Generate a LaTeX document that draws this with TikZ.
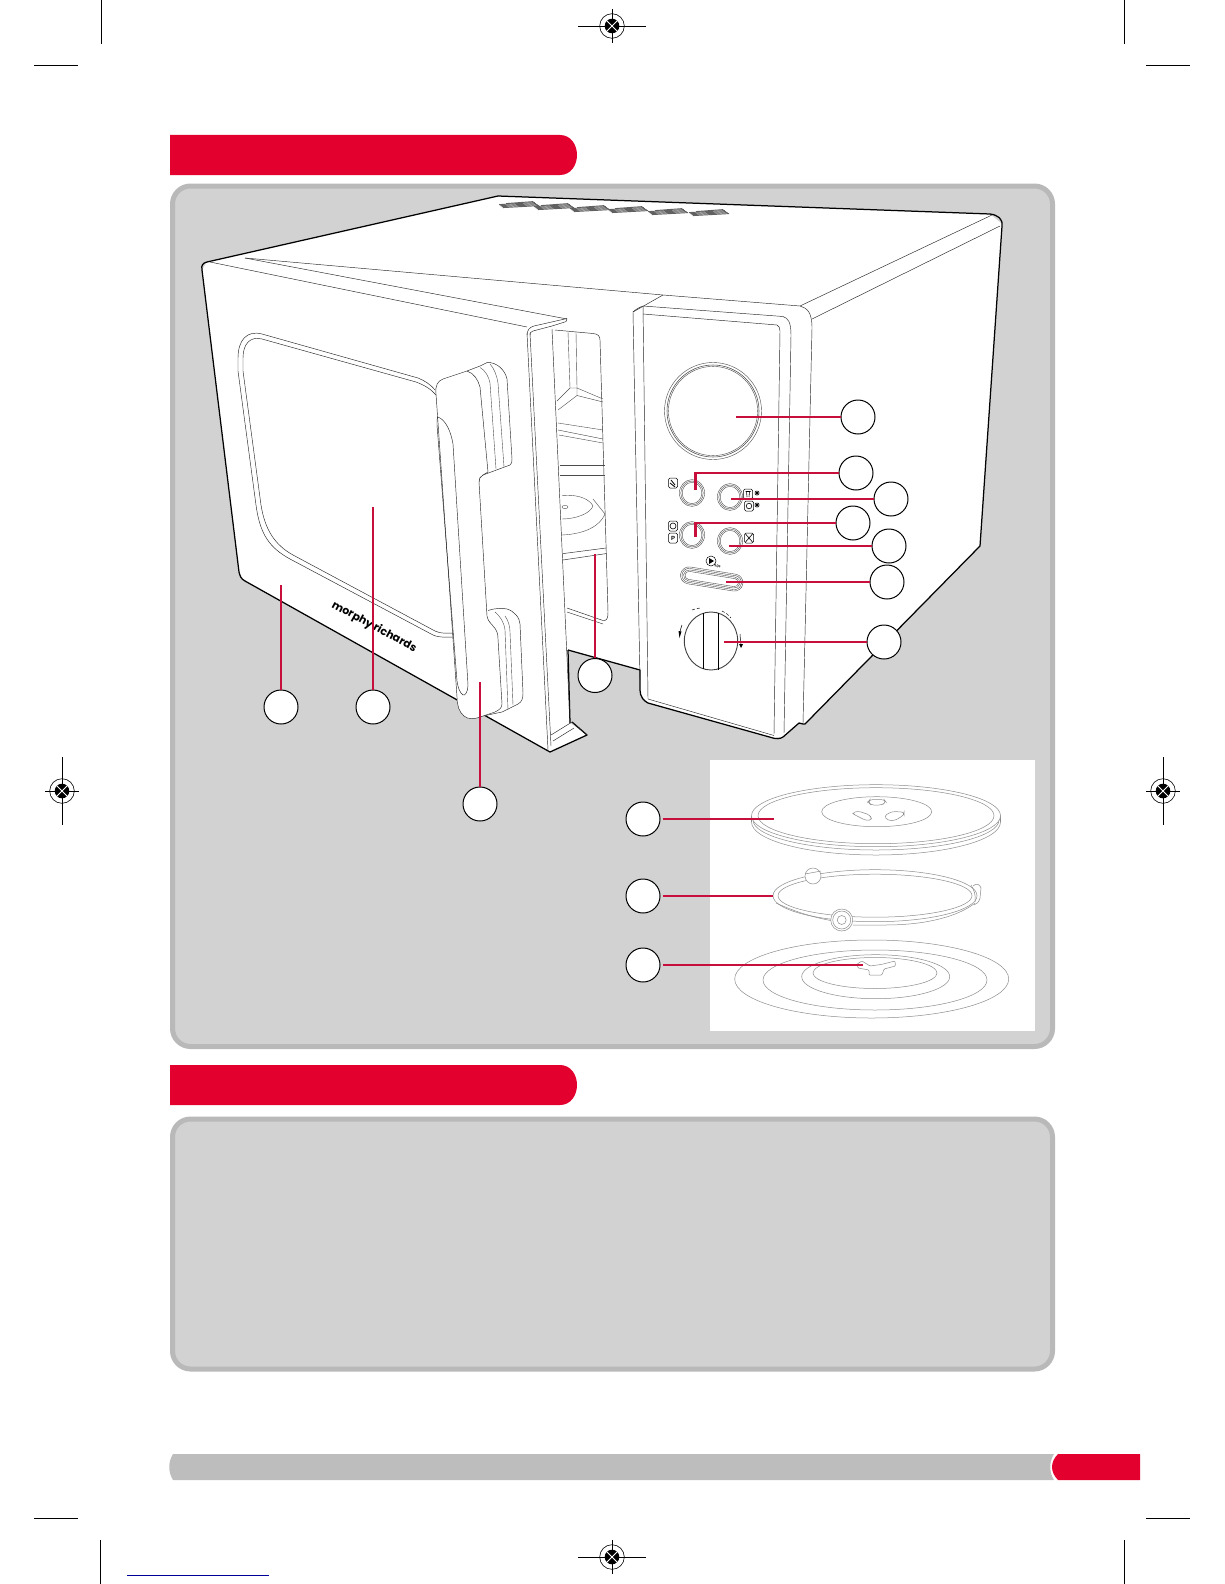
\documentclass[tikz,border=0pt]{standalone}
\usepackage{fontspec}
\newfontfamily\logofont{Poppins}
\newfontfamily\iconfont{Liberation Sans}
\definecolor{hdrred}{HTML}{E4002E}
\definecolor{leadred}{HTML}{C80F3C}
\definecolor{bandgrey}{HTML}{B9B9B9}
\definecolor{panelgrey}{HTML}{D2D2D2}
\definecolor{footgrey}{HTML}{BDBDBD}
\definecolor{insetline}{HTML}{8C8C8C}
\definecolor{linkblue}{HTML}{000099}
\tikzset{
  panelbox/.style={draw=bandgrey,line width=5pt,fill=panelgrey,rounded corners=18pt},
  outl/.style={draw=black,line width=1.25pt,line join=round},
  thin1/.style={draw=black!85,line width=0.45pt,line join=round},
  thin2/.style={draw=black!70,line width=0.4pt,line join=round},
  insetl/.style={draw=insetline,line width=0.5pt},
  callout/.style={circle,draw=black,line width=1pt,fill=white,minimum size=34pt,inner sep=0pt},
  leader/.style={draw=leadred,line width=2.9pt},
  leaderthin/.style={draw=leadred,line width=2.2pt},
  crop/.style={draw=black,line width=0.6pt},
  ring/.style={draw=black!70,line width=0.4pt},
  iconbox/.style={draw=black,line width=0.5pt,fill=white,rounded corners=1.5pt},
}
\begin{document}
\begin{tikzpicture}[x=1pt,y=-1pt]
\useasboundingbox (0,0) rectangle (1224,1584);
% crop marks
\draw[crop] (101,0) -- (101,44) (1124,0) -- (1124,44) (34,65) -- (78,65) (1146,65) -- (1190,65);
\draw[crop] (100,1540) -- (100,1584) (1124,1540) -- (1124,1584) (34,1518) -- (78,1518) (1146,1518) -- (1190,1518);
% registration marks
\foreach \mx/\my/\hl/\vl in {612/26/34/17,62/791/17/34,1163/791/17/34,612/1557/34/17}{
  \begin{scope}[shift={(\mx,\my)}]
    \draw[crop] (-\hl,0) -- (\hl,0) (0,-\vl) -- (0,\vl);
    \draw[crop] (0,0) circle[radius=12.3];
    \fill[black] (0,0) circle[radius=7.3];
    \draw[white,line width=0.8pt] (-6,-6) -- (6,6) (-6,6) -- (6,-6);
  \end{scope}}
\draw[linkblue,line width=1pt] (127,1575) -- (269,1575);
% headers and panels
\fill[hdrred] (170,135) -- (560,135) .. controls (571,135) and (577,145) .. (577,155) .. controls (577,165) and (571,175) .. (560,175) -- (170,175) -- cycle;
\draw[panelbox] (172.5,186) rectangle (1052.5,1046.5);
\fill[hdrred] (170,1065) -- (560,1065) .. controls (571,1065) and (577,1075) .. (577,1085) .. controls (577,1095) and (571,1105) .. (560,1105) -- (170,1105) -- cycle;
\draw[panelbox] (172.5,1119) rectangle (1052.5,1369);
% footer
\fill[footgrey] (173,1454) -- (1054,1454) .. controls (1049,1462) and (1049,1472) .. (1054,1480) -- (173,1480) .. controls (168,1472) and (168,1462) .. (173,1454) -- cycle;
\fill[hdrred] (1058,1454) -- (1140,1454) -- (1140,1480) -- (1058,1480) .. controls (1050,1472) and (1050,1462) .. (1058,1454) -- cycle;
% microwave body
\path[fill=white] (207,262) -- (498,196) -- (990,214) -- (1002,224) -- (980,546) -- (805,724) -- (799,723) -- (783,737) -- (773,738) -- (648,703) -- (640,694) -- (640,670) -- (568,650) -- (570,723) -- (587,735) -- (550,752) -- (243,580) -- (239,572) -- (202,270) -- cycle;
% outer thick edges
\draw[outl] (202,270) .. controls (201,265) and (203,263) .. (207,262) -- (498,196) -- (990,214) .. controls (998,215) and (1003,219) .. (1002,226) -- (980,546) -- (805,724) -- (803,724) -- (799,723) -- (783,737) .. controls (780,739) and (776,739) .. (773,738) -- (648,703) .. controls (644,701) and (640,697) .. (640,690) -- (640,670) -- (568,650);
\draw[outl] (202,270) -- (239,572) .. controls (240,576) and (241,579) .. (245,581) -- (550,752) -- (587,735) -- (572,722);
\draw[outl] (570,723) -- (568,650);
% vents
\foreach \vx/\vy in {498/201,533/203,569/205,607/206,647/208,688/209}{
  \foreach \k in {0,1,2,3,4}{
    \draw[black!62,line width=0.95pt] ({\vx+\k*1.2+(\k==0?8:0)},{\vy+2.6+\k*1}) -- ({\vx+41-(4-\k)*1.4},{\vy+0.6+\k*1});
  }}
% top lines
\draw[thin1] (245,258) -- (663,295) -- (800,306) -- (992,215);
\draw[thin1] (812,319) -- (1000,226);
\draw[thin1] (210,262) -- (527,327);
\draw[thin1] (245,258) -- (567,319);
% cavity
\draw[thin1] (555,330) -- (593,333.5) .. controls (598,334) and (600,336) .. (600,340) -- (608,612) .. controls (608,618) and (607,621) .. (603,620.5) -- (567,608);
\draw[thin1] (567,612) -- (603,624);
\draw[thin2] (568,332) -- (570,388) (576,332) -- (577,388) (570,388) -- (577,388) (570,388) -- (557,401) (577,388) -- (603,399) (577,395.5) -- (603,402) (577,388) -- (577,395.5) (577,395.5) -- (558,410);
\draw[thin2] (558,423) -- (603,430) (558,430) -- (603,439) (559,435) -- (603,443);
\draw[thin2] (560,465) -- (605,465) (560,475.5) -- (605,475.5);
\draw[thin2] (562,495.5) .. controls (580,494) and (590,500) .. (593,506) .. controls (590,514) and (575,519) .. (562,519);
\draw[thin2] (593,499) -- (605,514) .. controls (600,526) and (585,534) .. (562,535);
\draw[thin2] (565,507) ellipse[x radius=3,y radius=1.6];
\draw[thin1] (563,553.6) -- (606,548) (563,560) -- (606,553.6);
% door side
\draw[thin1] (527,333) -- (548,750) (530,333) -- (551,746) (552,329) -- (570,723);
\draw[thin1] (527,335) .. controls (527,330) and (530,327) .. (534,326) -- (567,318.5) -- (566,321.6) -- (552,326) -- (533,331) .. controls (530,332) and (530,333) .. (530,335);
\draw[thin1] (551,735) -- (572,722) (553,741) -- (574,728) (572,722) -- (587,735);
% window
\draw[thin1] (435,390) .. controls (430,384) and (425,381) .. (418,378) -- (262,334) .. controls (247,330) and (238,340) .. (238,358) -- (238,371) -- (256,505) .. controls (260,535) and (270,548) .. (290,559) -- (433,635) .. controls (440,638) and (446,637) .. (453,637);
\draw[thin1] (436,395) .. controls (431,389) and (424,385) .. (416,382) -- (262,339) .. controls (250,336) and (243,344) .. (243,358) -- (243,371) -- (261,505) .. controls (265,530) and (275,545) .. (293,555) -- (435,631) .. controls (441,634) and (447,633) .. (453,633);
% logo
\node[rotate=-28.5,anchor=base west,inner sep=0pt,font=\logofont\bfseries] (logo) at (331,607) {\fontsize{10.9}{12}\selectfont morphy richards};
% handle, rear parts
\path[fill=white] (467,371) -- (487,362.5) -- (500,367.5) -- (507,379) -- (512,459) -- (510,465) -- (483,475) -- cycle;
\draw[thin1] (467,371) -- (480,366) -- (487,362.5) .. controls (497,362) and (505,370) .. (507,379) -- (512,459) .. controls (512,463) and (511,464) .. (510,465) -- (483,475) .. controls (480,476) and (479,479) .. (479,482);
\draw[thin2] (480,367.5) .. controls (485,370) and (489,377) .. (490,383) -- (496,469);
\draw[thin2] (490,364) .. controls (494,368) and (497,376) .. (498,383) -- (504,467);
\path[fill=white] (487,612) -- (507,609) -- (520,624) -- (523,693) -- (518,704) -- (490,716) -- cycle;
\draw[thin1] (488,610.5) .. controls (495,608) and (503,608) .. (507,609) .. controls (514,611) and (520,618) .. (520,624) -- (523,693) .. controls (523,698) and (522,702) .. (518,704) -- (502,712) -- (483,716);
\draw[thin2] (495,612) .. controls (500,616) and (504,622) .. (505,630) -- (508,710);
\draw[thin2] (505,616) .. controls (508,620) and (510,626) .. (510,632) -- (513,705);
% handle front
\path[thin1,fill=white] (436,394) .. controls (435,385) and (438,381) .. (443,379) -- (467,371) .. controls (474,373) and (478,380) .. (480,387) -- (488,472) -- (483,475) .. controls (480,476) and (479,479) .. (479,482) -- (487,616) .. controls (488,622) and (492,624) .. (493,626) .. controls (497,630) and (498,634) .. (498,639) -- (502,704) .. controls (502,708) and (499,710) .. (495,712) -- (483,716) .. controls (476,719) and (468,720) .. (464,716) .. controls (459,712) and (457,705) .. (457,697) -- cycle;
\draw[thin1] (438,417) .. controls (446,420) and (451,432) .. (453,444) -- (468,685) .. controls (468,692) and (465,696) .. (463,695) .. controls (460,693) and (458,688) .. (457,681) -- (437,425) .. controls (437,420) and (437,417) .. (438,417) -- cycle;
% control panel
\draw[thin1] (633,312) -- (640,680);
\draw[thin1] (633,312) -- (663,295);
\draw[thin1] (633,312) .. controls (636,309) and (640,307) .. (643,306) -- (783,316.5) .. controls (788,318) and (791,322) .. (791,335) -- (784,733);
\draw[thin1] (643,306) -- (648,699) -- (774,735.5);
\draw[thin1] (643,314) -- (777,325) .. controls (779,326) and (780,328) .. (780,331) -- (774,734);
\draw[thin1] (800,306) .. controls (807,308) and (812,312) .. (812,328) -- (803,723);
% display
\draw[ring] (713,411) circle[radius=48.5];
\draw[ring,line width=0.55pt] (713,411) circle[radius=46];
\draw[ring] (713,411) circle[radius=44.6];
% buttons
\foreach \bx/\by in {692/493,730/497,692/535,730/541}{
  \draw[ring] (\bx,\by) ellipse[x radius=12.6,y radius=13.4];
  \draw[ring] (\bx,\by) ellipse[x radius=11.2,y radius=12];
  \draw[ring] (\bx,\by) ellipse[x radius=9.8,y radius=10.6];
}
% slot
\begin{scope}[shift={(711.7,579)},rotate=-9]
  \draw[ring,rounded corners=8.5pt] (-31.5,-8.5) rectangle (31.5,8.5);
  \draw[ring,rounded corners=7pt] (-30,-7) rectangle (30,7);
  \draw[ring,rounded corners=5.5pt] (-28.5,-5.5) rectangle (28.5,5.5);
  \draw[ring,rounded corners=4pt] (-27,-4) rectangle (27,4);
\end{scope}
% knob
\draw[draw=black!75,line width=0.9pt] (711,641) ellipse[x radius=26.7,y radius=29];
\draw[draw=black,line width=0.8pt] (703.3,613) -- (703.3,668.5) (718.3,613) -- (718.3,669.5);
\draw[black,line width=0.5pt,densely dashed] (692,610) .. controls (695,609) and (698,608) .. (700,608);
\draw[black,line width=0.5pt,densely dashed] (722,611) .. controls (726,613) and (729,615) .. (731,618);
\draw[black,line width=0.5pt] (682,625) .. controls (681,628) and (680,630) .. (680,634);
\fill[black] (678.5,631) -- (681.5,631.5) -- (679.5,638) -- cycle;
\draw[black,line width=0.5pt] (740,634) .. controls (740,638) and (741,641) .. (741,645);
\fill[black] (739,644) -- (743,644) -- (741,648) -- cycle;
% icons
\foreach \ix/\iy in {673/483,748/494,749/506,673/526,673/538,749/538}{
  \draw[iconbox] (\ix-4.5,\iy-5) rectangle (\ix+4.5,\iy+5);
}
\draw[black,line width=0.8pt] (671,480) -- (675,485) (670,483) -- (675,487);
\draw[black,line width=0.6pt] (745.5,491.5) -- (750.5,491.5) (746.5,491.5) -- (747,497) (749.5,491.5) -- (749,497);
\draw[black,line width=0.6pt] (749,506) circle[radius=2.8];
\draw[black,line width=0.6pt] (673,526) circle[radius=3];
\draw[black,line width=0.6pt] (745.5,534) -- (752.5,542) (752.5,534) -- (745.5,542);
\node[inner sep=0pt,font=\iconfont\bfseries\fontsize{6}{6}\selectfont] (pkey) at (673,538) {P};
\foreach \ax/\ay in {757/493,757/505}{
  \draw[black,line width=0.55pt] (\ax-2.5,\ay) -- (\ax+2.5,\ay) (\ax,\ay-2.5) -- (\ax,\ay+2.5) (\ax-2,\ay-2) -- (\ax+2,\ay+2) (\ax-2,\ay+2) -- (\ax+2,\ay-2);
}
\draw[black,line width=0.5pt] (711,561) circle[radius=5];
\fill[black] (709,558) -- (714,561) -- (709,564) -- cycle;
\node[inner sep=0pt,font=\iconfont\bfseries\fontsize{3.8}{4}\selectfont,rotate=-9] (tens) at (717.5,566) {10s};
% inset
\fill[white] (710,760) rectangle (1035,1031);
\begin{scope}[insetl]
  % plate
  \draw (751.5,822) arc[start angle=180,end angle=0,x radius=124.5,y radius=33];
  \draw (753,820) arc[start angle=180,end angle=0,x radius=123,y radius=30];
  \draw (751.5,815.7) -- (751.5,822) (1000.5,815.7) -- (1000.5,822);
  \draw[fill=white] (876,815.7) ellipse[x radius=124.5,y radius=31];
  \draw (876,815.7) ellipse[x radius=118,y radius=28];
  \draw (876.7,811.7) ellipse[x radius=55,y radius=15];
  \draw[rounded corners=3pt] (868,802) -- (870,799.5) -- (884,799.5) -- (886,802) -- (882,805) -- (871,805) -- cycle;
  \draw[rounded corners=3pt] (852,813) -- (858,811) -- (870,815) -- (872,820) -- (866,820.5) -- (855,815) -- cycle;
  \draw[rounded corners=3pt] (884,816) -- (892,811.5) -- (904,812) -- (904,815) -- (895,820.5) -- (888,820.5) -- cycle;
  % ring
  \draw (875,895.7) ellipse[x radius=102,y radius=26];
  \draw (875,895.7) ellipse[x radius=97,y radius=21.5];
  \draw (776,903) .. controls (800,914) and (825,921) .. (850,923);
  \draw (853,925) -- (885,925) .. controls (930,925) and (960,915) .. (975,903);
  \draw[fill=white] (813,876) circle[radius=8];
  \draw (805,874) -- (821,871);
  \draw[fill=white] (841.7,920) circle[radius=11];
  \draw (841.7,920) circle[radius=9];
  \draw (841.7,920) circle[radius=4.5];
  \draw (973,886) .. controls (976,883) and (980,884) .. (981,888) -- (980,898) .. controls (979,902) and (977,904) .. (974,905);
  \draw (971,885) .. controls (974,890) and (976,895) .. (975,902);
  % turntable base
  \draw (871.7,979) ellipse[x radius=137,y radius=39];
  \draw (875,980) ellipse[x radius=112,y radius=30];
  \draw (875.7,976.7) ellipse[x radius=74,y radius=22];
  \draw (875,973) ellipse[x radius=62,y radius=15.5];
  \draw[fill=white,rounded corners=1pt] (857,964) -- (862,961) -- (870,966) -- (881,964.5) -- (895,961) -- (895.5,966) -- (884,969) -- (882,975) -- (869,975) -- (869,970) -- (858,968) -- cycle;
\end{scope}
% callouts
\node[callout] (cA) at (858,417) {};
\node[callout] (cB) at (856,473) {};
\node[callout] (cC) at (891,499) {};
\node[callout] (cD) at (853,523) {};
\node[callout] (cE) at (889,546) {};
\node[callout] (cF) at (887,582) {};
\node[callout] (cG) at (884,642) {};
\node[callout] (cH) at (595,675.5) {};
\node[callout] (cI) at (281,707) {};
\node[callout] (cJ) at (373,707) {};
\node[callout] (cK) at (480,804) {};
\node[callout] (cL) at (643,819) {};
\node[callout] (cM) at (643,896) {};
\node[callout] (cN) at (643,965) {};
% leader ends
\coordinate (eA) at (736,417);
\coordinate (eB) at (695.7,490);
\coordinate (kB) at (695.7,473);
\coordinate (eC) at (731,499);
\coordinate (eD) at (695.7,537);
\coordinate (kD) at (695.7,523);
\coordinate (eE) at (729,546);
\coordinate (eF) at (726,582);
\coordinate (eG) at (724,642);
\coordinate (eH) at (595,553.6);
\coordinate (eI) at (281,585);
\coordinate (eJ) at (373,507);
\coordinate (eK) at (480,682);
\coordinate (eL) at (774,819);
\coordinate (eM) at (773,896);
\coordinate (eN) at (863,965);
\draw[leader] (cA.west) -- (eA);
\draw[leader,line join=miter] (cB.west) -- (kB) -- (eB);
\draw[leaderthin] (cC.west) -- (eC);
\draw[leader,line join=miter] (cD.west) -- (kD) -- (eD);
\draw[leaderthin] (cE.west) -- (eE);
\draw[leaderthin] (cF.west) -- (eF);
\draw[leader] (cG.west) -- (eG);
\draw[leaderthin] (cH.north) -- (eH);
\draw[leaderthin] (cI.north) -- (eI);
\draw[leader] (cJ.north) -- (eJ);
\draw[leaderthin] (cK.north) -- (eK);
\draw[leader,shorten <=2pt] (cL.east) -- (eL);
\draw[leaderthin,shorten <=2pt] (cM.east) -- (eM);
\draw[leader,shorten <=2pt] (cN.east) -- (eN);
\end{tikzpicture}
\end{document}
